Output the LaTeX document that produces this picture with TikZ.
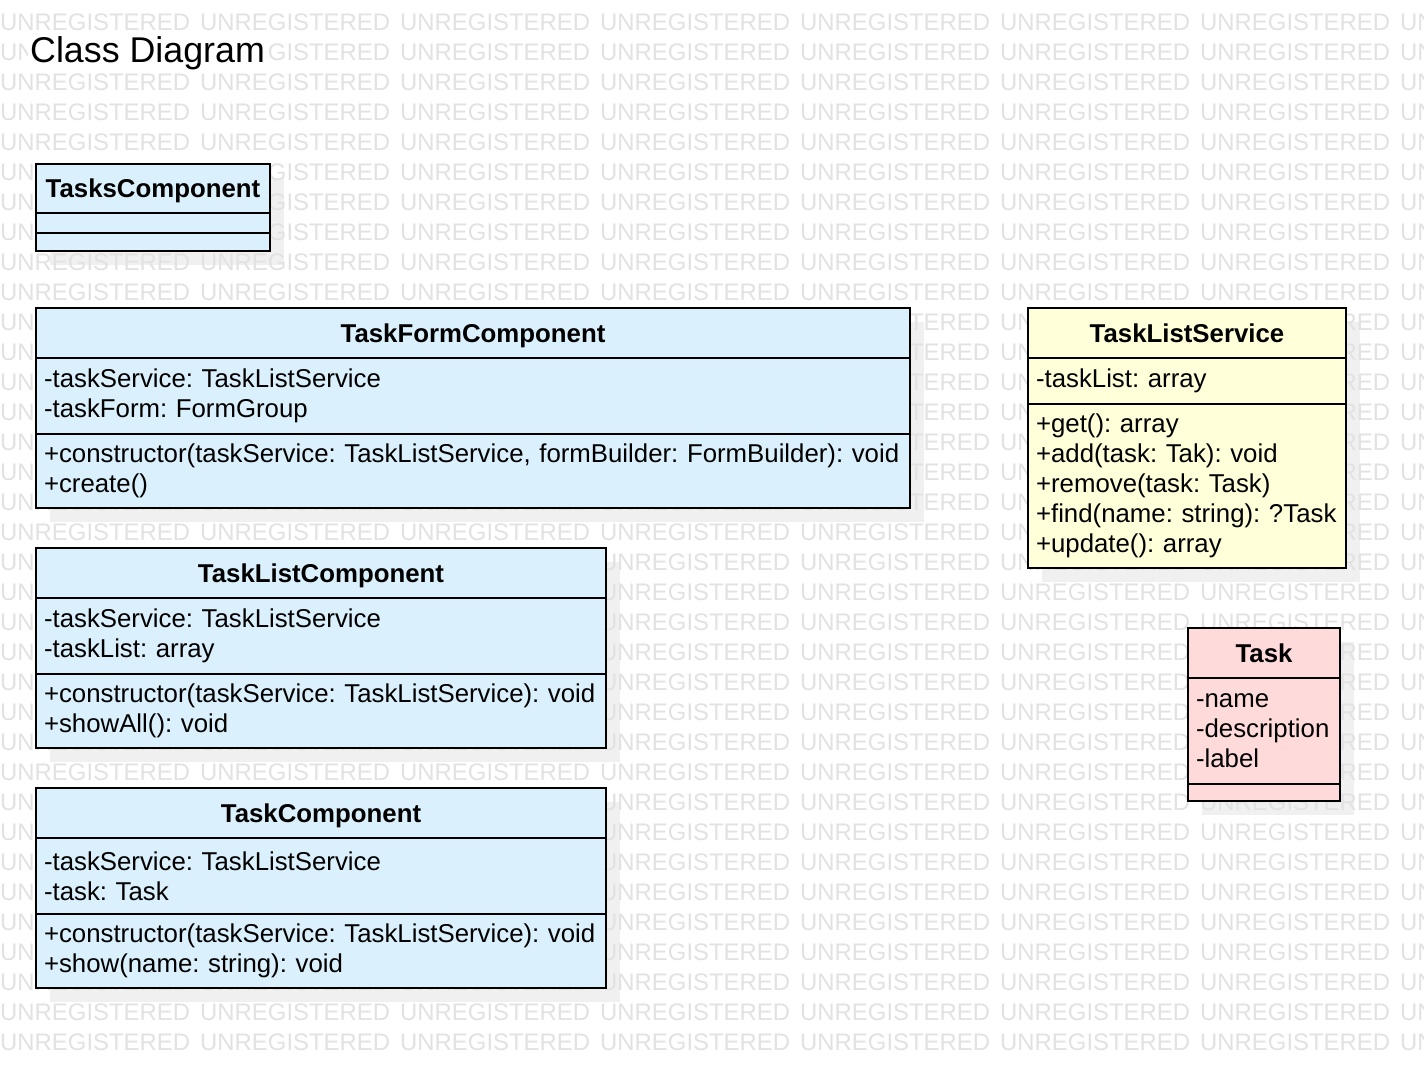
\documentclass[tikz,border=0pt]{standalone}
\usepackage{fontspec}
\setmainfont{Liberation Sans}
\usetikzlibrary{positioning}
\definecolor{compfill}{RGB}{218,240,252}
\definecolor{servfill}{RGB}{255,255,218}
\definecolor{modelfill}{RGB}{255,218,218}
\definecolor{shadowc}{RGB}{240,240,240}
\definecolor{stampc}{RGB}{226,226,226}
\pgfdeclarelayer{shade}
\pgfdeclarelayer{stamp}
\pgfsetlayers{shade,stamp,main}
\frenchspacing

\begin{document}
\begin{tikzpicture}[x=1pt, y=-1pt, font={\fontsize{25.8}{30}\selectfont},
      cls/.style={draw, line width=2pt, outer sep=0pt, inner xsep=8pt, inner ysep=0pt},
      hdr/.style={cls, align=center, minimum height=50pt, anchor=north west,
        text height=18.8pt, text depth=0pt, font={\fontsize{25.8}{30}\selectfont\bfseries}},
      cmp/.style={cls, align=left},
      comp/.style={fill=compfill}, serv/.style={fill=servfill}, model/.style={fill=modelfill},
      wm/.style={anchor=base west, inner sep=0pt, text=stampc, font={\fontsize{23.9}{24}\selectfont}}]
    \useasboundingbox (0,0) rectangle (1424,1068);
    \node[fill=white, inner xsep=2pt, inner ysep=3pt, anchor=west,
      font={\fontsize{35.8}{40}\selectfont}] (title) at (28,53) {Class Diagram};

    % components
    \node[hdr, comp, text width=218pt, minimum height=49pt] (tasks) at (36,164) {TasksComponent};
    \node[cmp, comp, text width=218pt, minimum height=20pt, below=0pt of tasks] (tasks-attr) {};
    \node[cmp, comp, text width=218pt, minimum height=18pt, below=0pt of tasks-attr] (tasks-ops) {};

    \node[hdr, comp, text width=858pt] (form) at (36,308) {TaskFormComponent};
    \node[cmp, comp, text width=858pt, minimum height=76pt, below=0pt of form] (form-attr)
      {-taskService: TaskListService\\-taskForm: FormGroup};
    \node[cmp, comp, text width=858pt, minimum height=74pt, below=0pt of form-attr] (form-ops)
      {+constructor(taskService: TaskListService, formBuilder: FormBuilder): void\\+create()};

    \node[hdr, comp, text width=554pt] (list) at (36,548) {TaskListComponent};
    \node[cmp, comp, text width=554pt, minimum height=76pt, below=0pt of list] (list-attr)
      {-taskService: TaskListService\\-taskList: array};
    \node[cmp, comp, text width=554pt, minimum height=74pt, below=0pt of list-attr] (list-ops)
      {+constructor(taskService: TaskListService): void\\+showAll(): void};

    \node[hdr, comp, text width=554pt] (item) at (36,788) {TaskComponent};
    \node[cmp, comp, text width=554pt, minimum height=76pt, below=0pt of item] (item-attr)
      {-taskService: TaskListService\\-task: Task};
    \node[cmp, comp, text width=554pt, minimum height=74pt, below=0pt of item-attr] (item-ops)
      {+constructor(taskService: TaskListService): void\\+show(name: string): void};

    % service and model
    \node[hdr, serv, text width=302pt] (service) at (1028,308) {TaskListService};
    \node[cmp, serv, text width=302pt, minimum height=46pt, below=0pt of service] (service-attr)
      {-taskList: array};
    \node[cmp, serv, text width=302pt, minimum height=164pt, below=0pt of service-attr] (service-ops)
      {+get(): array\\+add(task: Tak): void\\+remove(task: Task)\\+find(name: string): ?Task\\+update(): array};

    \node[hdr, model, text width=136pt] (task) at (1188,628) {Task};
    \node[cmp, model, text width=136pt, minimum height=106pt, below=0pt of task] (task-attr)
      {-name\\-description\\-label};
    \node[cmp, model, text width=136pt, minimum height=17pt, below=0pt of task-attr] (task-ops) {};

    % shadows and stamp
    \begin{pgfonlayer}{shade}
      \fill[white] (0,0) rectangle (1424,1068);
      \foreach \cname/\cbot in {tasks/tasks-ops, form/form-ops, list/list-ops,
          item/item-ops, service/service-ops, task/task-ops}
        \fill[shadowc] ([shift={(14,14)}]\cname.north west) rectangle ([shift={(14,14)}]\cbot.south east);
    \end{pgfonlayer}
    \begin{pgfonlayer}{stamp}
      \begin{scope}
        \clip (0,0) rectangle (1424,1068);
        \foreach \row in {0,...,34}
          \foreach \col in {0,...,7}
            \node[wm] (wm-\row-\col) at (200*\col, 30.6+30*\row) {UNREGISTERED};
      \end{scope}
    \end{pgfonlayer}
  \end{tikzpicture}
\end{document}
